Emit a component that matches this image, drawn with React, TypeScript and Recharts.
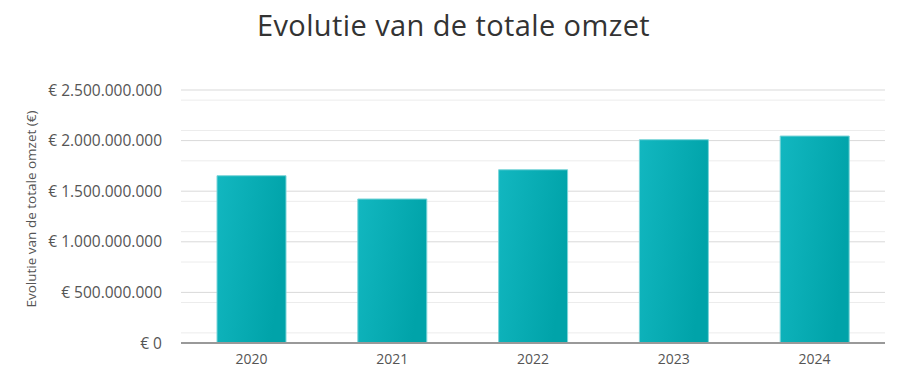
import React from "react";
import { BarChart, Bar, XAxis, YAxis, CartesianGrid } from "recharts";

const years = ["2020", "2021", "2022", "2023", "2024"];
const omzet = [1653000000, 1423000000, 1712000000, 2009000000, 2045000000];
const majorTicks = [0, 500000000, 1000000000, 1500000000, 2000000000, 2500000000];
const minorTicks = [
  100000000, 200000000, 300000000, 400000000,
  600000000, 700000000, 800000000, 900000000,
  1100000000, 1200000000, 1300000000, 1400000000,
  1600000000, 1700000000, 1800000000, 1900000000,
  2100000000, 2200000000, 2300000000, 2400000000,
];

const data = years.map((year, i) => ({ year, omzet: omzet[i] }));

const euro = (v: number) =>
  v === 0 ? "€ 0" : "€ " + v.toString().replace(/\B(?=(\d{3})+(?!\d))/g, ".");

const FONT = "'Open Sans', sans-serif";

const YLabel = () => (
  <text
    x={31}
    y={209}
    transform="rotate(-90 31 209)"
    textAnchor="middle"
    dominantBaseline="central"
    fill="#555"
    fontSize={13.5}
    fontFamily={FONT}
  >
    Evolutie van de totale omzet (€)
  </text>
);

const App: React.FC = () => (
  <div
    style={{
      position: "absolute",
      left: 0,
      top: 0,
      width: 907,
      height: 387,
      background: "#fff",
      fontFamily: FONT,
    }}
  >
    <div
      style={{
        position: "absolute",
        top: 5,
        left: 0,
        width: 907,
        textAlign: "center",
        fontSize: 29,
        color: "#333",
        letterSpacing: 0.4,
      }}
    >
      Evolutie van de totale omzet
    </div>
    <BarChart
      width={907}
      height={387}
      data={data}
      margin={{ top: 90, right: 22, bottom: 14, left: 0 }}
    >
      <defs>
        <linearGradient id="barFill" x1="0" y1="0" x2="1" y2="0.3">
          <stop offset="0%" stopColor="#12b7c0" />
          <stop offset="100%" stopColor="#00a3a9" />
        </linearGradient>
      </defs>
      <CartesianGrid
        vertical={false}
        horizontalValues={minorTicks}
        stroke="#ececec"
        strokeWidth={1}
      />
      <CartesianGrid vertical={false} stroke="#d9d9d9" strokeWidth={1} />
      <XAxis
        dataKey="year"
        height={30}
        tickLine={false}
        tickSize={0}
        tickMargin={11}
        axisLine={{ stroke: "#999", strokeWidth: 2 }}
        tick={{ fill: "#555", fontSize: 14, fontFamily: FONT }}
      />
      <YAxis
        width={181}
        domain={[0, 2500000000]}
        ticks={majorTicks}
        tickFormatter={euro}
        axisLine={false}
        tickLine={false}
        tickSize={0}
        tickMargin={19}
        tick={{ fill: "#555", fontSize: 15.5, fontFamily: FONT }}
        label={<YLabel />}
      />
      <Bar
        dataKey="omzet"
        fill="url(#barFill)"
        stroke="#7dd5d9"
        strokeWidth={1}
        barSize={69}
        isAnimationActive={false}
      />
    </BarChart>
  </div>
);

export default App;
